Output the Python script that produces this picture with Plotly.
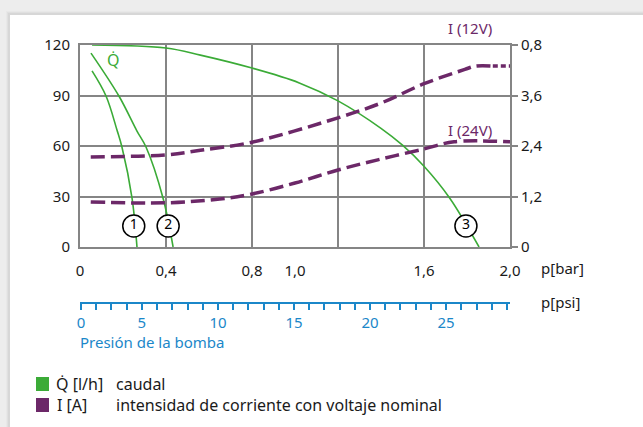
import plotly.graph_objects as go

#%% Data.

# Flow curves 1, 2, 3 : pressure p [bar] and flow Q [l/h].
q1_bar = [0.056, 0.121, 0.172, 0.195, 0.242, 0.265]
q1_flow = [104.6, 89.7, 69.5, 59.4, 29.1, 0]

q2_bar = [0.051, 0.181, 0.265, 0.307, 0.386, 0.433]
q2_flow = [115.2, 89.7, 68.9, 59.4, 29.1, 0]

q3_bar = [0.056, 0.4, 0.56, 0.8, 1.02, 1.2, 1.4, 1.5, 1.6, 1.72, 1.856]
q3_flow = [120, 118.2, 114, 106.3, 97.5, 86.8, 70.5, 60.5, 48, 29, 0]

# Current curves : pressure p [bar] and current I [A].
i12_bar = [0.05, 0.4, 0.56, 0.8, 1.2, 1.4, 1.6, 1.79, 1.84, 1.92]
i12_amp = [2.14, 2.19, 2.3, 2.49, 3.07, 3.42, 3.88, 4.22, 4.3, 4.3]
i12_tail_bar = [1.92, 2.0]
i12_tail_amp = [4.3, 4.3]

i24_bar = [0.05, 0.4, 0.65, 0.8, 1.0, 1.2, 1.4, 1.6, 1.74, 2.0]
i24_amp = [1.07, 1.05, 1.14, 1.26, 1.52, 1.83, 2.09, 2.33, 2.5, 2.5]

# Curve number labels.
label_text = ["1", "2", "3"]
label_bar = [0.25, 0.41, 1.795]
label_flow = [12.5, 12.5, 12.5]

# Axes ticks.
bar_tickvals = [0, 0.4, 0.8, 1.0, 1.6, 2.0]
bar_ticktext = ["0", "0,4", "0,8", "1,0", "1,6", "2,0"]
bar_gridvals = [0.4, 0.8, 1.2, 1.6]
flow_tickvals = [0, 30, 60, 90, 120]
amp_tickvals = [0, 1.2, 2.4, 3.6, 4.8]
amp_ticktext = ["0", "1,2", "2,4", "3,6", "0,8"]
psi_tickvals = [0, 4, 9, 14, 19, 24]
psi_ticktext = ["0", "5", "10", "15", "20", "25"]
psi_minor = list(range(0, 29))

#%% Layout helpers.

W, H = 643, 427
M_L, M_R, M_T, M_B = 80, 133, 45, 82

def px_x(px) :
    """Pixel column -> paper x."""
    return (px - M_L) / (W - M_L - M_R)

def px_y(py) :
    """Pixel row -> paper y."""
    return (H - M_B - py) / (H - M_T - M_B)

GREEN = "#3bab37"
PURPLE = "#6c2868"
BLUE = "#1b87c9"
GRID = "#858585"
FONT = "Noto Sans"

#%% Figure.

fig = go.Figure()

for xs, ys in [(q1_bar, q1_flow), (q2_bar, q2_flow), (q3_bar, q3_flow)] :
    fig.add_trace(go.Scatter(x=xs, y=ys, mode="lines", line=dict(color=GREEN, width=1.6, shape="spline"),
                             showlegend=False, hoverinfo="skip"))

fig.add_trace(go.Scatter(x=i12_bar, y=i12_amp, mode="lines", xaxis="x2", yaxis="y2",
                         line=dict(color=PURPLE, width=3.5, dash="14px,6px", shape="spline"),
                         showlegend=False, hoverinfo="skip"))
fig.add_trace(go.Scatter(x=i12_tail_bar, y=i12_tail_amp, mode="lines", xaxis="x2", yaxis="y2",
                         line=dict(color=PURPLE, width=3.5, dash="5px,3px"),
                         showlegend=False, hoverinfo="skip"))
fig.add_trace(go.Scatter(x=i24_bar, y=i24_amp, mode="lines", xaxis="x2", yaxis="y2",
                         line=dict(color=PURPLE, width=3.5, dash="14px,6px", shape="spline"),
                         showlegend=False, hoverinfo="skip"))

fig.add_trace(go.Scatter(x=label_bar, y=label_flow, mode="markers+text", text=label_text,
                         textposition="middle center", textfont=dict(family=FONT, size=14, color="black"),
                         marker=dict(size=22, color="white", line=dict(color="black", width=1.5)),
                         showlegend=False, hoverinfo="skip", cliponaxis=False))

# Empty trace so the psi axis is drawn.
fig.add_trace(go.Scatter(x=psi_minor, y=[None] * len(psi_minor), xaxis="x3", yaxis="y",
                         showlegend=False, hoverinfo="skip"))

fig.update_layout(
    width=W, height=H,
    margin=dict(l=M_L, r=M_R, t=M_T, b=M_B, pad=0),
    paper_bgcolor="#ededed", plot_bgcolor="rgba(0,0,0,0)",
    font=dict(family=FONT, size=15, color="#1a1a1a"),
    xaxis=dict(range=[0, 2], tickvals=bar_tickvals, ticktext=bar_ticktext, showgrid=False, zeroline=False,
               showline=True, mirror=True, linecolor=GRID, linewidth=2,
               ticks="outside", ticklen=9, tickcolor="rgba(0,0,0,0)"),
    xaxis2=dict(range=[0, 2], overlaying="x", anchor="y2", tickvals=bar_gridvals, showticklabels=False,
                showgrid=True, gridcolor=GRID, gridwidth=2, zeroline=False, ticks=""),
    xaxis3=dict(range=[-0.07, 28.2], overlaying="x", anchor="free", position=px_y(303), side="bottom",
                tickvals=psi_tickvals, ticktext=psi_ticktext, showgrid=False, zeroline=False,
                showline=True, linecolor=BLUE, linewidth=2,
                ticks="outside", ticklen=6, tickwidth=2, tickcolor=BLUE,
                minor=dict(tick0=0, dtick=1, ticks="outside", ticklen=6, tickwidth=2, tickcolor=BLUE),
                tickfont=dict(color=BLUE, size=15)),
    yaxis=dict(range=[0, 120], domain=[px_y(247), 1], tickvals=flow_tickvals, showgrid=True,
               gridcolor=GRID, gridwidth=2, zeroline=False, showline=True, mirror=True,
               linecolor=GRID, linewidth=2, ticks="outside", ticklen=5, tickcolor="rgba(0,0,0,0)"),
    yaxis2=dict(range=[0, 4.8], overlaying="y", side="right", tickvals=amp_tickvals, ticktext=amp_ticktext,
                showgrid=False, zeroline=False, ticks="outside", ticklen=7, tickwidth=2, tickcolor=GRID),
)

# Card with a soft shadow behind the chart.
for i, op in enumerate([0.02, 0.03, 0.04]) :
    off = 4 - i
    fig.add_shape(type="rect", xref="paper", yref="paper", layer="below", line_width=0,
                  fillcolor=f"rgba(0,0,0,{op})",
                  x0=px_x(10 - off), x1=px_x(W + 10), y0=px_y(H + 10), y1=px_y(15 - off))
fig.add_shape(type="rect", xref="paper", yref="paper", layer="below", line_width=0, fillcolor="white",
              x0=px_x(10), x1=px_x(W + 10), y0=px_y(H + 10), y1=px_y(15))

# Legend squares.
fig.add_shape(type="rect", xref="paper", yref="paper", line_width=0, fillcolor=GREEN,
              x0=px_x(36), x1=px_x(49), y0=px_y(391), y1=px_y(377))
fig.add_shape(type="rect", xref="paper", yref="paper", line_width=0, fillcolor=PURPLE,
              x0=px_x(36), x1=px_x(49), y0=px_y(412), y1=px_y(398))

def note(text, x, y, color="#1a1a1a", size=15, anchor="left") :
    fig.add_annotation(text=text, x=px_x(x), y=px_y(y), xref="paper", yref="paper", showarrow=False,
                       xanchor=anchor, yanchor="middle", font=dict(family=FONT, size=size, color=color))

note("Q\u0307", 113, 60, GREEN, 16, "center")
note("I (12V)", 470, 28, PURPLE, 15, "center")
note("I (24V)", 470, 130, PURPLE, 15, "center")
note("p[bar]", 539, 268)
note("p[psi]", 539, 302)
note("Presión de la bomba", 78, 342, BLUE)
note("Q\u0307 [l/h]", 54, 384, size=16)
note("caudal", 114, 384, size=16)
note("I [A]", 55, 405, size=16)
note("intensidad de corriente con voltaje nominal", 114, 405, size=16)

# Remove the default page margin so the figure sits at the window origin.
fig.write_html("out.html", config={"displayModeBar": False},
               post_script="document.body.style.margin = '0';")
